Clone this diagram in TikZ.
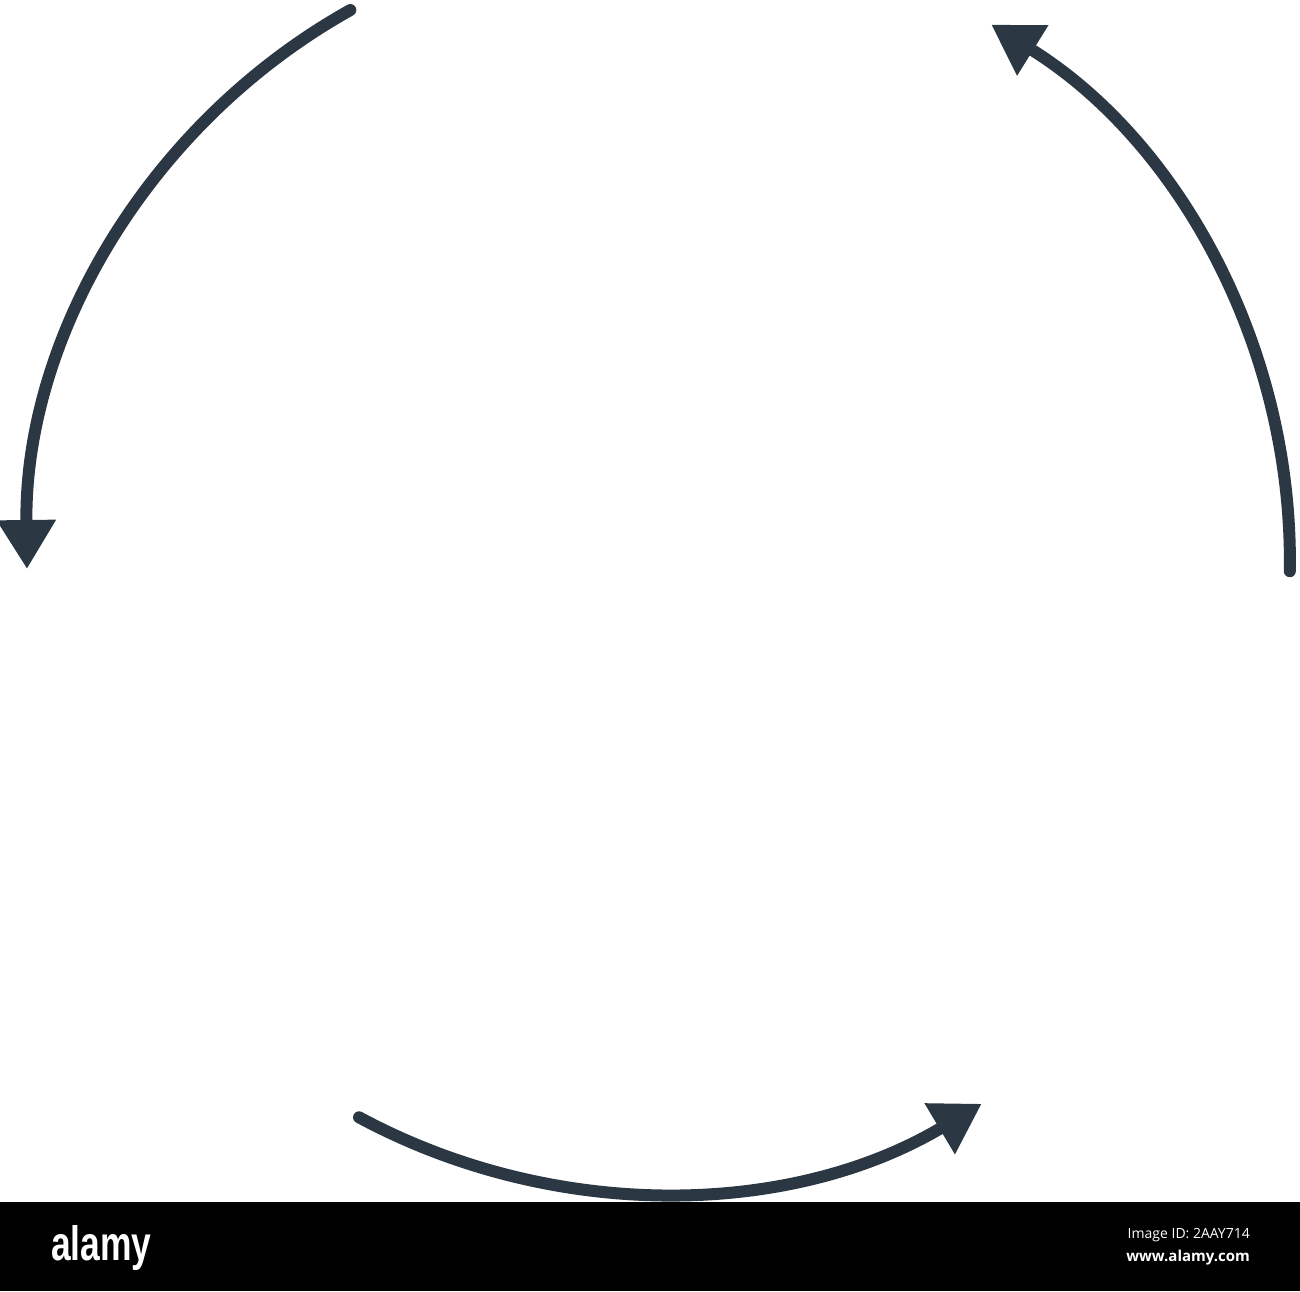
\documentclass[tikz,border=0pt]{standalone}
\usepackage{fontspec}
\setmainfont{Liberation Sans}
\newfontfamily\opensans{Open Sans}
\usetikzlibrary{arrows.meta}
\definecolor{arcink}{RGB}{43,55,66}
\begin{document}
\begin{tikzpicture}[x=1pt,y=1pt,
  cyclearc/.style={draw=arcink, line width=12pt, line cap=round,
    -{Triangle[length=49pt,width=56pt]}, fill=none},
  banner/.style={fill=black, draw=none},
  logo/.style={text=white, font=\fontsize{46}{46}\selectfont\bfseries, xscale=0.77, yscale=1.05, inner sep=0pt, anchor=base west},
  smalltxt/.style={text=white, inner sep=0pt, anchor=base east}]
\useasboundingbox (0,0) rectangle (1300,1291);
\fill[white] (0,0) rectangle (1300,1291);
\coordinate (c) at (658.4,729.7);
% three arcs
\draw[cyclearc] (c) ++(119.2:631.5) arc[start angle=119.2, end angle=180.7, radius=631.5];
\draw[cyclearc] (c) ++(-0.9:631.5) arc[start angle=-0.9, end angle=58.2, radius=631.5];
\draw[cyclearc] (c) ++(241.7:631.5) arc[start angle=241.7, end angle=300.8, radius=631.5];
% banner
\fill[banner] (0,0) rectangle (1300,89);
\node[logo] (logo) at (51,31) {alamy};
\node[smalltxt, font=\opensans\fontsize{14}{14}\selectfont] (imgid) at (1250,53) {Image ID: 2AAY714};
\node[smalltxt, font=\opensans\fontsize{15}{15}\selectfont\bfseries] (web) at (1250,30) {www.alamy.com};
\end{tikzpicture}
\end{document}
